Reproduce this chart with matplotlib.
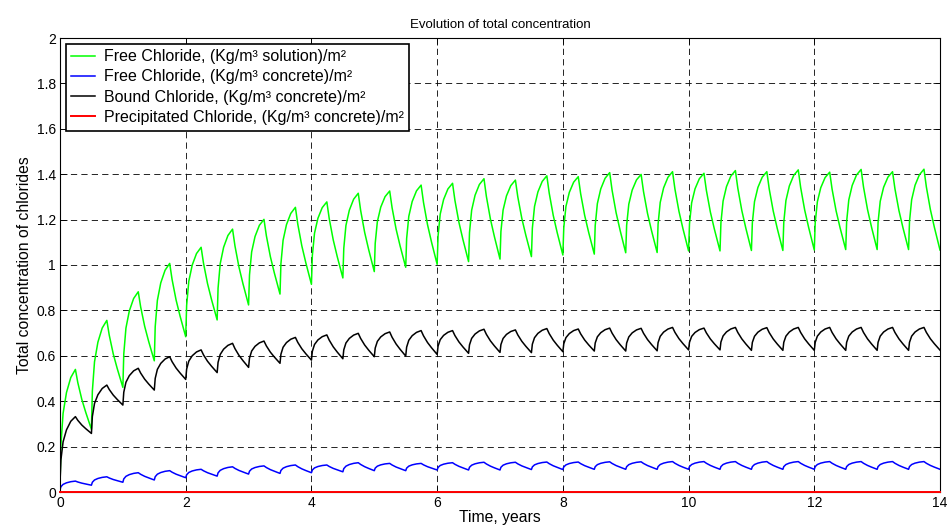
import numpy as np
import matplotlib
matplotlib.use("Agg")
import matplotlib.pyplot as plt

plt.rcParams['font.family'] = ['Liberation Sans', 'DejaVu Sans']
plt.rcParams['lines.scale_dashes'] = False

# Wetting/drying cycles: one cycle every half year, 28 cycles over 14 years
period = 0.5
rise_share = 0.245  # part of each cycle (years) spent rising

# Values at the start of each cycle (t = 0, 0.5, ..., 14) and at each cycle's peak
green_trough = [0.03, 0.276, 0.461, 0.578, 0.684, 0.758, 0.824, 0.872, 0.915, 0.943,
                0.971, 0.990, 1.003, 1.015, 1.026, 1.037, 1.044, 1.048, 1.054, 1.055,
                1.062, 1.062, 1.064, 1.064, 1.066, 1.068, 1.068, 1.068, 1.066]
green_peak = [0.540, 0.756, 0.882, 1.007, 1.078, 1.158, 1.201, 1.254, 1.278, 1.316,
              1.326, 1.352, 1.360, 1.380, 1.374, 1.393, 1.389, 1.407, 1.399, 1.411,
              1.404, 1.416, 1.411, 1.419, 1.409, 1.421, 1.411, 1.422]

black_trough = [0.04, 0.258, 0.383, 0.449, 0.496, 0.526, 0.549, 0.567, 0.581, 0.587,
                0.596, 0.599, 0.606, 0.611, 0.615, 0.614, 0.618, 0.621, 0.621, 0.622,
                0.626, 0.626, 0.624, 0.624, 0.624, 0.624, 0.624, 0.624, 0.625]
black_peak = [0.332, 0.471, 0.545, 0.596, 0.626, 0.655, 0.665, 0.681, 0.692, 0.699,
              0.705, 0.711, 0.711, 0.717, 0.714, 0.720, 0.718, 0.722, 0.721, 0.725,
              0.722, 0.725, 0.724, 0.725, 0.725, 0.725, 0.725, 0.725]

blue_trough = [0.010, 0.030, 0.043, 0.053, 0.063, 0.070, 0.079, 0.082, 0.085, 0.089,
               0.094, 0.094, 0.097, 0.097, 0.097, 0.099, 0.099, 0.100, 0.100, 0.100,
               0.100, 0.100, 0.100, 0.100, 0.100, 0.100, 0.100, 0.100, 0.100]
blue_peak = [0.048, 0.067, 0.085, 0.094, 0.100, 0.111, 0.115, 0.119, 0.119, 0.129,
             0.126, 0.126, 0.129, 0.131, 0.131, 0.132, 0.132, 0.133, 0.133, 0.134,
             0.134, 0.134, 0.134, 0.134, 0.134, 0.134, 0.134, 0.134]

red_time = [0.0, 14.0]
red_value = [0.0, 0.0]

# Shape of one cycle: fraction of the swing covered at fractions of each phase
rise_phase = [0.0, 0.06, 0.2, 0.42, 0.7, 1.0]
rise_frac = [0.0, 0.35, 0.62, 0.80, 0.93, 1.0]
decay_phase = [0.0, 0.15, 0.4, 0.65, 0.85, 1.0]
decay_frac = [0.0, 0.22, 0.50, 0.72, 0.88, 1.0]


def cycle_curve(troughs, peaks):
    t_out, v_out = [], []
    rp, rf = np.array(rise_phase), np.array(rise_frac)
    dp, df = np.array(decay_phase), np.array(decay_frac)
    for k, pk in enumerate(peaks):
        t0 = k * period
        tr0, tr1 = troughs[k], troughs[k + 1]
        t_out.extend(t0 + rp * rise_share)
        v_out.extend(tr0 + (pk - tr0) * rf)
        t_out.extend(t0 + rise_share + dp[1:] * (period - rise_share))
        v_out.extend(pk - (pk - tr1) * df[1:])
    return np.array(t_out), np.array(v_out)


fig = plt.figure(figsize=(9.5, 5.28), dpi=100)
ax = fig.add_axes([60 / 950, 36 / 528, 880 / 950, 454 / 528])

tg, vg = cycle_curve(green_trough, green_peak)
tb, vb = cycle_curve(blue_trough, blue_peak)
tk, vk = cycle_curve(black_trough, black_peak)

lw = 1.1
ax.plot(tg, vg, color=(0, 1, 0), lw=lw, label='Free Chloride, (Kg/m³ solution)/m²')
ax.plot(tb, vb, color=(0, 0, 1), lw=lw, label='Free Chloride, (Kg/m³ concrete)/m²')
ax.plot(tk, vk, color='black', lw=lw, label='Bound Chloride, (Kg/m³ concrete)/m²')
ax.plot(red_time, red_value, color=(1, 0, 0), lw=lw + 0.3,
        label='Precipitated Chloride, (Kg/m³ concrete)/m²', clip_on=False, zorder=5)

ax.set_xlim(0, 14)
ax.set_ylim(0, 2)
ax.set_xticks(np.arange(0, 15, 2))
ax.set_yticks(np.arange(0, 2.01, 0.2))
ax.yaxis.set_major_formatter(matplotlib.ticker.FormatStrFormatter('%g'))
ax.xaxis.set_major_formatter(matplotlib.ticker.FormatStrFormatter('%g'))
ax.tick_params(direction='in', top=True, right=True, labelsize=10,
               length=5, width=0.6, pad=3)
ax.grid(True, color='black', linestyle=(0, (4.5, 3.0)), linewidth=0.6)
for s in ax.spines.values():
    s.set_linewidth(0.8)

ax.set_title('Evolution of total concentration', fontsize=9.5, pad=7)
ax.set_xlabel('Time, years', fontsize=11.3, labelpad=0)
ax.set_ylabel('Total concentration of chlorides', fontsize=11.3, labelpad=3)

leg = ax.legend(loc='upper left', fontsize=11.5, fancybox=False, framealpha=1,
                edgecolor='black', handlelength=1.5, handletextpad=0.55,
                borderaxespad=0.35, labelspacing=0.33, borderpad=0.35)
leg.get_frame().set_linewidth(1.2)

fig.savefig('out.png', dpi=100)
